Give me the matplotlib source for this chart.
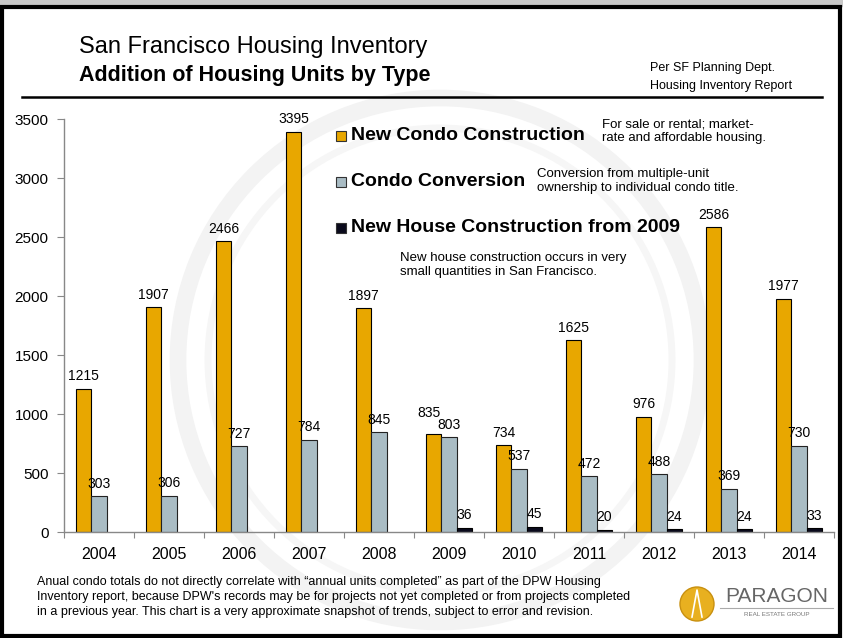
import matplotlib.pyplot as plt
import matplotlib.patches as mpatches
import numpy as np

years = ['2004', '2005', '2006', '2007', '2008', '2009', '2010', '2011', '2012', '2013', '2014']
new_condo = [1215, 1907, 2466, 3395, 1897, 835, 734, 1625, 976, 2586, 1977]
condo_conv = [303, 306, 727, 784, 845, 803, 537, 472, 488, 369, 730]
new_house = [None, None, None, None, None, 36, 45, 20, 24, 24, 33]

C_ORANGE = '#E8A700'
C_GRAY = '#A9BCC4'
C_BLACK = '#0A0A1C'

W, H = 843, 638
plt.rcParams['font.family'] = ['Liberation Sans', 'DejaVu Sans']
fig = plt.figure(figsize=(W / 100, H / 100), dpi=100)

# background layer in pixel coordinates (y down)
bg = fig.add_axes([0, 0, 1, 1], zorder=-1)
bg.set_xlim(0, W)
bg.set_ylim(H, 0)
bg.axis('off')
bg.add_patch(mpatches.Rectangle((0, 0), W, 6, color='#c8c8c8'))
bg.add_patch(mpatches.Rectangle((2, 7), 838, 629, fill=False, edgecolor='black', linewidth=3))
bg.add_patch(mpatches.Circle((440, 360), 262, fill=False, edgecolor='#f3f3f3', linewidth=12))
bg.add_patch(mpatches.Circle((440, 360), 232, fill=False, edgecolor='#f6f6f6', linewidth=5))
bg.plot([22, 822], [97, 97], color='black', linewidth=1.8)

ax = fig.add_axes([64 / W, 1 - 532 / H, 770 / W, (532 - 119.5) / H])
ax.patch.set_alpha(0)

x = np.arange(len(years))
bw = 0.221
ax.bar(x - bw, new_condo, bw, color=C_ORANGE, edgecolor='black', linewidth=0.8)
ax.bar(x, condo_conv, bw, color=C_GRAY, edgecolor='#222222', linewidth=0.8)
hx = [i + bw for i, v in enumerate(new_house) if v is not None]
hv = [v for v in new_house if v is not None]
ax.bar(hx, hv, bw, color=C_BLACK, edgecolor='black', linewidth=0.8)

lab = dict(ha='center', va='center', fontsize=10, textcoords='offset points')
for i, v in enumerate(new_condo):
    off = (-3, 14.5) if v == 835 else (0, 9)
    ax.annotate(str(v), (x[i] - bw, v), xytext=off, **lab)
for i, v in enumerate(condo_conv):
    ax.annotate(str(v), (x[i], v), xytext=(0, 9), **lab)
for xx, v in zip(hx, hv):
    ax.annotate(str(v), (xx, v), xytext=(0, 9), **lab)

ax.set_xlim(-0.5, len(years) - 0.5)
ax.set_ylim(0, 3500)
ax.set_yticks(range(0, 3501, 500))
ax.set_xticks(np.arange(-0.5, len(years), 1))
ax.set_xticklabels([])
ax.set_xticks(x, minor=True)
ax.set_xticklabels(years, minor=True, fontsize=11.5)
ax.tick_params(axis='x', which='major', length=4, color='#888888', direction='out')
ax.tick_params(axis='x', which='minor', length=0, pad=11)
ax.tick_params(axis='y', length=5, color='#888888', labelsize=11, pad=6)
for s in ['top', 'right']:
    ax.spines[s].set_visible(False)
for s in ['left', 'bottom']:
    ax.spines[s].set_color('#888888')
    ax.spines[s].set_linewidth(1)

# titles
bg.text(79, 47, 'San Francisco Housing Inventory', fontsize=17, va='center', ha='left')
bg.text(79, 75, 'Addition of Housing Units by Type', fontsize=15.5, fontweight='bold',
        va='center', ha='left')
bg.text(650, 77, 'Per SF Planning Dept.\nHousing Inventory Report', fontsize=9,
        va='center', ha='left', linespacing=1.6)

# legend with notes
legend_rows = [(C_ORANGE, 'New Condo Construction', 135.7),
               (C_GRAY, 'Condo Conversion', 181.7),
               (C_BLACK, 'New House Construction from 2009', 227.7)]
for col, txt, yc in legend_rows:
    bg.add_patch(mpatches.Rectangle((336, yc - 5), 10, 10, facecolor=col,
                                    edgecolor='#333333', linewidth=0.8))
    bg.text(351, yc, txt, fontsize=14, fontweight='bold', va='center', ha='left')

bg.text(602, 131, 'For sale or rental; market-\nrate and affordable housing.',
        fontsize=9.5, va='center', ha='left', linespacing=1.15)
bg.text(537, 181, 'Conversion from multiple-unit\nownership to individual condo title.',
        fontsize=9.5, va='center', ha='left', linespacing=1.15)
bg.text(400, 265, 'New house construction occurs in very\nsmall quantities in San Francisco.',
        fontsize=9.5, va='center', ha='left', linespacing=1.3)

# footnote
foot = ('Anual condo totals do not directly correlate with \u201cannual units completed\u201d as part of the DPW Housing\n'
        'Inventory report, because DPW\'s records may be for projects not yet completed or from projects completed\n'
        'in a previous year. This chart is a very approximate snapshot of trends, subject to error and revision.')
bg.text(37, 597, foot, fontsize=9, va='center', ha='left', linespacing=1.3)

# logo
bg.add_patch(mpatches.Circle((697, 604), 17, facecolor='#E8B020', edgecolor='#C89010', linewidth=1))
bg.plot([692, 697, 702], [617, 590, 617], color='white', linewidth=1.2)
bg.text(777, 597, 'PARAGON', fontsize=15, color='#666666', ha='center', va='center')
bg.plot([720, 833], [608, 608], color='#aaaaaa', linewidth=0.8)
bg.text(777, 615, 'REAL ESTATE GROUP', fontsize=4.5, color='#777777', ha='center', va='center')

fig.savefig('out.png', dpi=100)
